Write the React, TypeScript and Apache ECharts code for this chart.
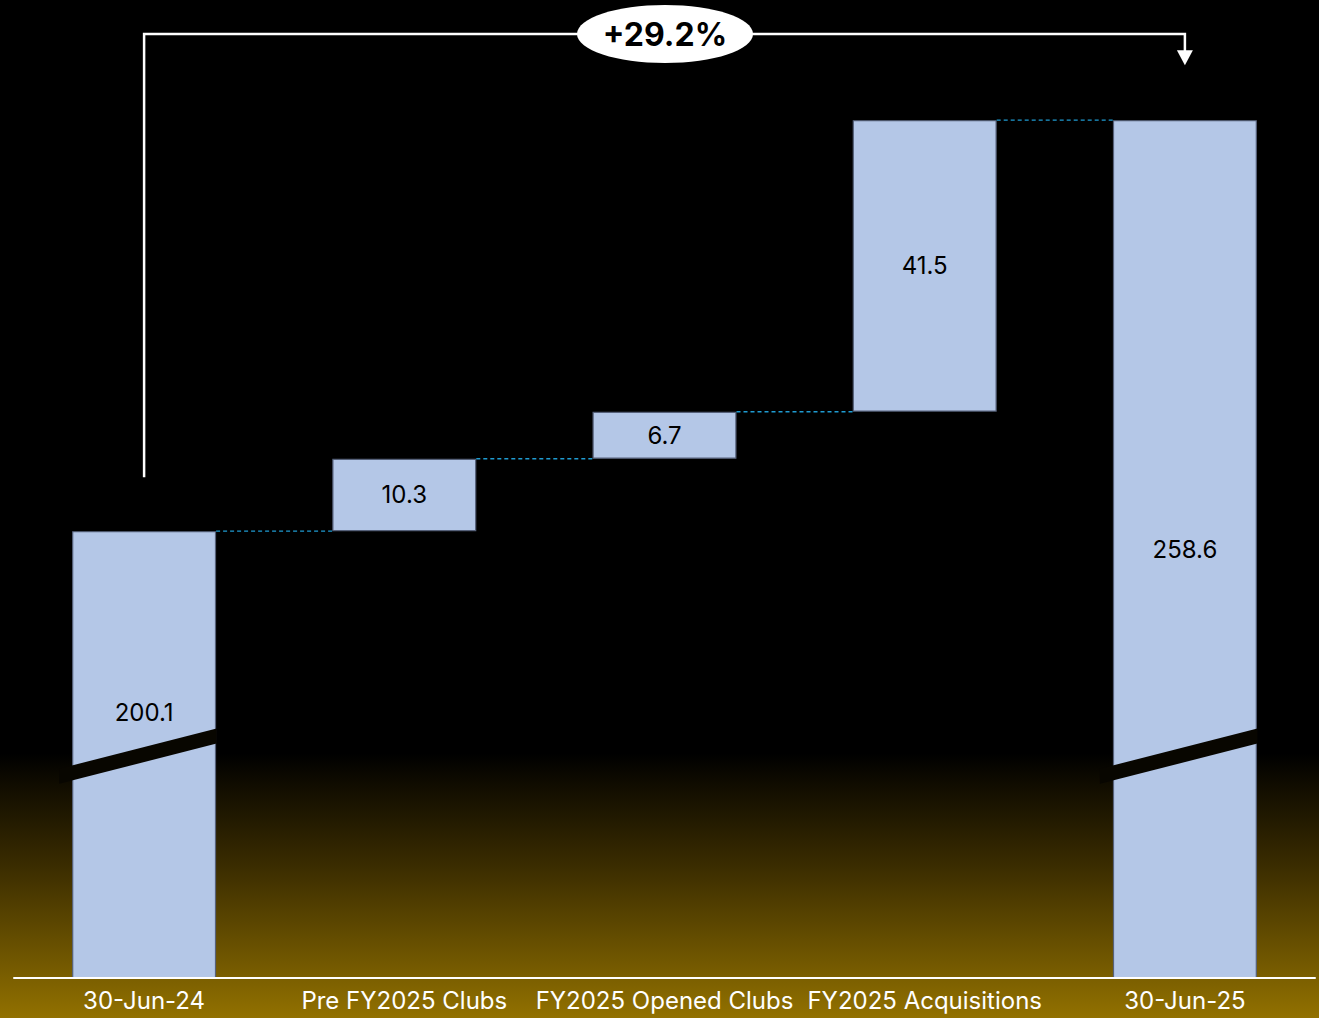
import React, { useEffect, useRef } from "react";
import * as echarts from "echarts";

const categories = ["30-Jun-24", "Pre FY2025 Clubs", "FY2025 Opened Clubs", "FY2025 Acquisitions", "30-Jun-25"];
const values = [200.1, 10.3, 6.7, 41.5, 258.6];
const isTotal = [true, false, false, false, true];

const Y_MIN = 136.5;
const Y_MAX = 275.7;
const BREAK_VALUE = 168.3;
const FONT = "Inter, 'Liberation Sans', sans-serif";

export default function App() {
  const ref = useRef<HTMLDivElement>(null);
  useEffect(() => {
    if (!ref.current) return;
    const chart = echarts.init(ref.current, undefined, { renderer: "svg" });

    // waterfall bases and tops
    const bases: number[] = [];
    const tops: number[] = [];
    let running = 0;
    values.forEach((v, i) => {
      if (isTotal[i]) {
        bases.push(0);
        running = v;
        tops.push(v);
      } else {
        bases.push(running);
        running += v;
        tops.push(running);
      }
    });
    const connectors = tops.slice(0, tops.length - 1).map((v, i) => [i, v]);
    const breaks = isTotal.map((t, i) => (t ? [i, BREAK_VALUE] : null)).filter(Boolean) as number[][];
    const BAR_W = 144;

    chart.setOption({
      animation: false,
      backgroundColor: new echarts.graphic.LinearGradient(0, 0, 0, 1, [
        { offset: 0, color: "#000000" },
        { offset: 0.74, color: "#000000" },
        { offset: 0.85, color: "#3a2c00" },
        { offset: 1, color: "#927100" },
      ]),
      grid: { left: 14, right: 4, top: 0, bottom: 40 },
      xAxis: {
        type: "category",
        data: categories,
        axisLine: { show: true, lineStyle: { color: "#ffffff", width: 2 } },
        axisTick: { show: false },
        axisLabel: { color: "#ffffff", fontSize: 24, fontFamily: FONT, margin: 10, interval: 0 },
        z: 10,
      },
      yAxis: {
        type: "value",
        min: Y_MIN,
        max: Y_MAX,
        show: false,
        splitLine: { show: false },
      },
      series: [
        {
          type: "bar",
          stack: "wf",
          data: bases,
          barWidth: BAR_W,
          itemStyle: { color: "transparent" },
          emphasis: { disabled: true },
          silent: true,
        },
        {
          type: "bar",
          stack: "wf",
          clip: true,
          data: values.map((v, i) => ({
            value: v,
            label: i === 0 ? { offset: [0, -42] } : undefined,
          })),
          itemStyle: { color: "#B4C7E7", borderColor: "#56617a", borderWidth: 1.2 },
          label: {
            show: true,
            position: "inside",
            color: "#000000",
            fontSize: 24,
            fontFamily: FONT,
            formatter: (p: any) => values[p.dataIndex].toFixed(1),
          },
          emphasis: { disabled: true },
        },
        {
          type: "custom",
          data: connectors,
          encode: { x: 0, y: 1 },
          z: 5,
          silent: true,
          renderItem: (params: any, api: any) => {
            const i = api.value(0);
            const v = api.value(1);
            const p0 = api.coord([i, v]);
            const p1 = api.coord([i + 1, v]);
            return {
              type: "line",
              shape: { x1: p0[0] + BAR_W / 2, y1: p0[1], x2: p1[0] - BAR_W / 2, y2: p1[1] },
              style: { stroke: "#1f9bd1", lineWidth: 1.4, lineDash: [4, 3] },
            };
          },
        },
        {
          type: "custom",
          data: breaks,
          encode: { x: 0, y: 1 },
          z: 6,
          silent: true,
          renderItem: (params: any, api: any) => {
            const i = api.value(0);
            const v = api.value(1);
            const c = api.coord([i, v]);
            const L = c[0] - BAR_W / 2 - 13;
            const R = c[0] + BAR_W / 2 + 0.5;
            const slope = 0.255;
            const half = 7.5;
            const yl = c[1] + (c[0] - L) * slope;
            const yr = c[1] - (R - c[0]) * slope;
            return {
              type: "polygon",
              shape: { points: [[L, yl - half], [R, yr - half], [R, yr + half], [L, yl + half]] },
              style: { fill: "#080600" },
            };
          },
        },
      ],
    });

    // annotation arrow: growth from first total to last total
    const firstIdx = 0;
    const lastIdx = values.length - 1;
    const pStart = chart.convertToPixel({ gridIndex: 0 }, [firstIdx, tops[firstIdx]]) as number[];
    const pEnd = chart.convertToPixel({ gridIndex: 0 }, [lastIdx, tops[lastIdx]]) as number[];
    const topY = 34;
    const startY = pStart[1] - 54;
    const tipY = pEnd[1] - 55;
    const headH = 15;
    const headW = 8;
    const pct = (values[lastIdx] / values[firstIdx] - 1) * 100;
    const midX = 665;

    chart.setOption({
      graphic: [
        {
          type: "polyline",
          z: 20,
          shape: {
            points: [
              [pStart[0], startY],
              [pStart[0], topY],
              [pEnd[0], topY],
              [pEnd[0], tipY - headH + 1],
            ],
          },
          style: { stroke: "#ffffff", lineWidth: 2.5, fill: null },
        },
        {
          type: "polygon",
          z: 20,
          shape: {
            points: [
              [pEnd[0] - headW, tipY - headH],
              [pEnd[0] + headW, tipY - headH],
              [pEnd[0], tipY],
            ],
          },
          style: { fill: "#ffffff" },
        },
        {
          type: "ellipse",
          z: 21,
          shape: { cx: midX, cy: topY, rx: 88, ry: 29 },
          style: { fill: "#ffffff" },
        },
        {
          type: "text",
          z: 22,
          x: midX,
          y: topY,
          style: {
            text: "+" + pct.toFixed(1) + "%",
            fill: "#000000",
            font: "bold 32px " + FONT,
            align: "center",
            verticalAlign: "middle",
          },
        },
      ],
    });

    return () => chart.dispose();
  }, []);

  return (
    <div
      ref={ref}
      style={{ position: "fixed", left: 0, top: 0, width: 1319, height: 1018 }}
    />
  );
}
